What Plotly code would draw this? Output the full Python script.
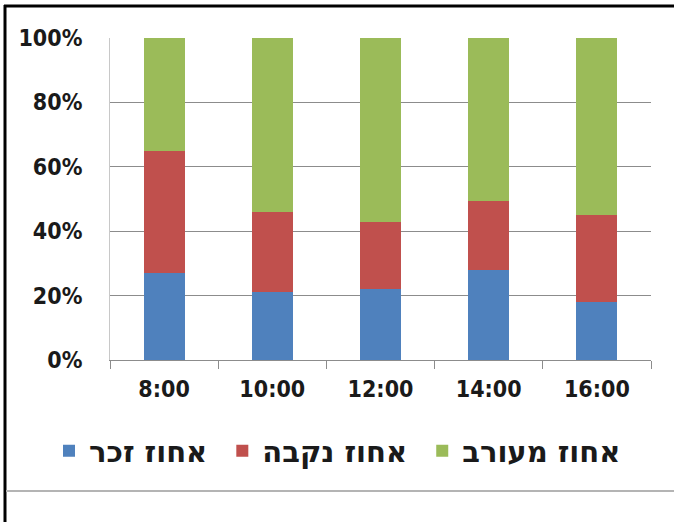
import plotly.graph_objects as go

# Share of each group per hour of day (percent of total)
hours = ["8:00", "10:00", "12:00", "14:00", "16:00"]
male_pct = [27, 21, 22, 28, 18]
female_pct = [38, 25, 21, 21.5, 27]
mixed_pct = [35, 54, 57, 50.5, 55]

series_names = ["אחוז זכר", "אחוז נקבה", "אחוז מעורב"]
series_colors = ["#4F81BD", "#C0504D", "#9BBB59"]
y_ticks = [0, 20, 40, 60, 80, 100]

W, H = 674, 522
PL, PR, PT, PB = 110, 651, 38, 360  # plot area in pixels


def px_x(px):
    return (px - PL) / (PR - PL)


def px_y(py):
    return (PB - py) / (PB - PT)


fig = go.Figure()
for name, vals, col in zip(series_names, [male_pct, female_pct, mixed_pct], series_colors):
    # a trailing no-break space widens the gap before the next legend entry
    fig.add_trace(go.Bar(x=hours, y=vals, name=name + "\u00a0", marker=dict(color=col, line=dict(width=0)),
                         width=0.38))

tick_font = dict(family="DejaVu Sans Condensed, DejaVu Sans", size=23, color="#1a1a1a", weight="bold")

fig.update_layout(
    width=W, height=H,
    barmode="stack",
    paper_bgcolor="white", plot_bgcolor="white",
    margin=dict(l=PL, r=W - PR, t=PT, b=H - PB, pad=0, autoexpand=False),
    showlegend=True,
    legend=dict(
        orientation="h", traceorder="normal",
        x=px_x(49), xanchor="left", y=px_y(451), yanchor="middle",
        font=dict(family="DejaVu Sans", size=29, color="#1a1a1a", weight="bold"),
        itemwidth=30, entrywidth=0, bgcolor="rgba(0,0,0,0)",
    ),
    xaxis=dict(
        type="category", showgrid=False, showline=True, linecolor="#8c8c8c", linewidth=1,
        ticks="outside", tickson="boundaries", ticklen=8, tickcolor="#8c8c8c",
        tickfont=tick_font, ticklabelstandoff=8,
    ),
    yaxis=dict(
        range=[0, 100], tickvals=y_ticks, ticktext=[f"{v}%" for v in y_ticks],
        showgrid=True, gridcolor="#8c8c8c", gridwidth=1,
        showline=True, linecolor="#c8c8c8", linewidth=1,
        zeroline=False, ticks="", tickfont=tick_font, ticklabelstandoff=22,
    ),
    shapes=[
        # outer frame: top and left black edges
        dict(type="line", xref="paper", yref="paper", x0=px_x(4), x1=px_x(680), y0=px_y(6), y1=px_y(6),
             line=dict(color="black", width=3)),
        dict(type="line", xref="paper", yref="paper", x0=px_x(5), x1=px_x(5), y0=px_y(5), y1=px_y(530),
             line=dict(color="black", width=3)),
        # separator below the chart
        dict(type="line", xref="paper", yref="paper", x0=px_x(6), x1=px_x(680), y0=px_y(491), y1=px_y(491),
             line=dict(color="#b4b4b4", width=2)),
    ],
)

fig.write_html("out.html")
